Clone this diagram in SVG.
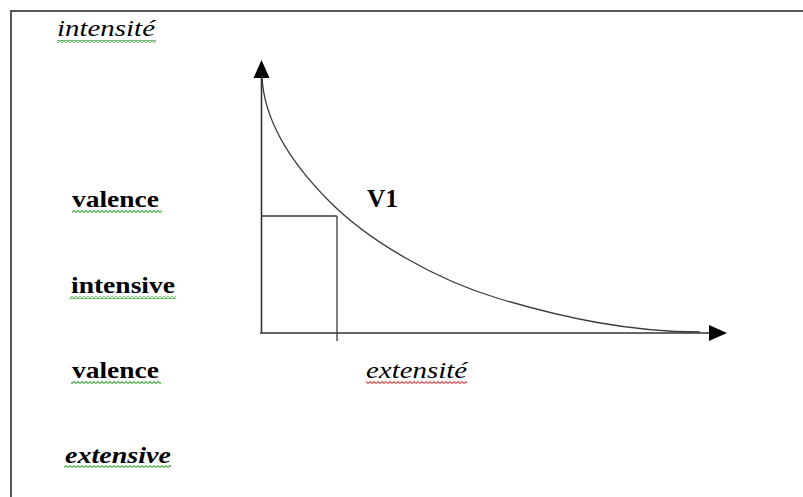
<svg xmlns="http://www.w3.org/2000/svg" width="803" height="497" viewBox="0 0 803 497">
<style>
.lbl{font-family:"Liberation Serif","Times New Roman",serif;fill:#000}
.b{font-weight:bold}
.i{font-style:italic}
.ax{stroke:#333;stroke-width:1.6;fill:none}
.thin{stroke:#3a3a3a;stroke-width:1.3;fill:none}
</style>
<defs>
<pattern id="wg" width="4" height="3" patternUnits="userSpaceOnUse">
<path d="M0,2.5 L2,0.5 L4,2.5" stroke="#4caf4c" stroke-width="1.1" fill="none"/>
</pattern>
<pattern id="wr" width="4" height="3" patternUnits="userSpaceOnUse">
<path d="M0,2.5 L2,0.5 L4,2.5" stroke="#e05050" stroke-width="1.1" fill="none"/>
</pattern>
</defs>
<rect width="803" height="497" fill="#fff"/>
<g id="frame">
<path d="M11,497 V11 H803" stroke="#555" stroke-width="2" fill="none"/>
</g>
<g id="connectors">
<line class="ax" x1="261.5" y1="333" x2="261.5" y2="78"/>
<path d="M253.5,78 L261.5,60 L269.5,78 Z" fill="#000"/>
<line class="ax" x1="260" y1="333" x2="709" y2="333"/>
<path d="M709,325 L727,333 L709,341 Z" fill="#000"/>
<path class="thin" d="M337,216 H261.5 M337,216 V341"/>
<path class="thin" d="M262,76 C264,130 305,177 330,202 C370,242 437,280 497,298 C564,318 630,332 700,332"/>
</g>
<g id="label-intensite">
<text class="lbl i" x="57" y="36" font-size="24" textLength="98" lengthAdjust="spacingAndGlyphs">intensité</text>
<rect x="57" y="40" width="99" height="3" fill="url(#wg)"/>
</g>
<g id="label-valence1">
<text class="lbl b" x="72" y="207" font-size="24" textLength="87" lengthAdjust="spacingAndGlyphs">valence</text>
<rect x="72" y="210" width="90" height="3" fill="url(#wg)"/>
</g>
<g id="label-intensive">
<text class="lbl b" x="71" y="293" font-size="24" textLength="104" lengthAdjust="spacingAndGlyphs">intensive</text>
<rect x="70" y="296" width="106" height="3" fill="url(#wg)"/>
</g>
<g id="label-valence2">
<text class="lbl b" x="72" y="378" font-size="24" textLength="87" lengthAdjust="spacingAndGlyphs">valence</text>
<rect x="71" y="381" width="90" height="3" fill="url(#wg)"/>
</g>
<g id="label-extensive">
<text class="lbl b i" x="65" y="463" font-size="24" textLength="106" lengthAdjust="spacingAndGlyphs">extensive</text>
<rect x="64" y="465" width="107" height="3" fill="url(#wg)"/>
</g>
<g id="label-extensite">
<text class="lbl i" x="366" y="378" font-size="24" textLength="101" lengthAdjust="spacingAndGlyphs">extensité</text>
<rect x="366" y="381" width="101" height="3" fill="url(#wr)"/>
</g>
<g id="label-V1">
<text class="lbl b" x="367" y="207" font-size="26" textLength="31" lengthAdjust="spacingAndGlyphs">V1</text>
</g>
</svg>
